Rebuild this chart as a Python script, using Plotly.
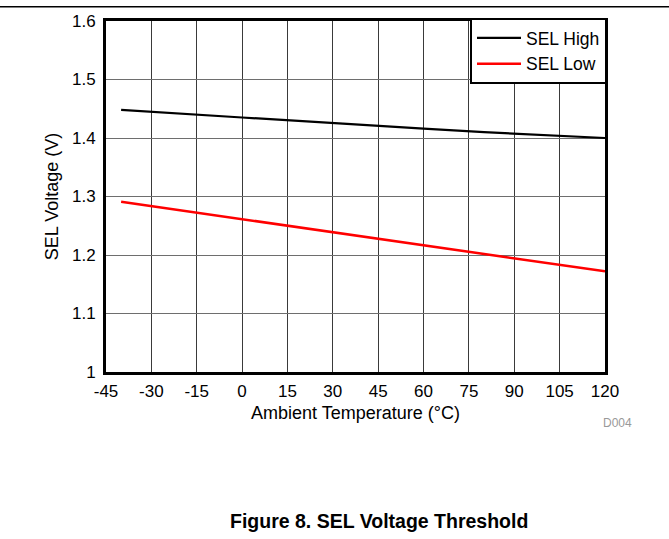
import plotly.graph_objects as go

temps = [-40, -20, 0, 20, 40, 60, 80, 100, 120]
sel_high = [1.448, 1.441, 1.435, 1.429, 1.422, 1.416, 1.410, 1.405, 1.400]
sel_low = [1.291, 1.276, 1.261, 1.246, 1.231, 1.216, 1.201, 1.187, 1.172]
x_ticks = [-45, -30, -15, 0, 15, 30, 45, 60, 75, 90, 105, 120]
x_tick_text = ["-45", "-30", "-15", "0", "15", "30", "45", "60", "75", "90", "105", "120"]
y_ticks = [1.0, 1.1, 1.2, 1.3, 1.4, 1.5, 1.6]
y_tick_text = ["1", "1.1", "1.2", "1.3", "1.4", "1.5", "1.6"]

FONT = "Liberation Sans, Arial, sans-serif"

fig = go.Figure()
fig.add_trace(go.Scatter(x=temps, y=sel_high, mode="lines", name="SEL High",
                         line=dict(color="black", width=2.2)))
fig.add_trace(go.Scatter(x=temps, y=sel_low, mode="lines", name="SEL Low",
                         line=dict(color="#ff0000", width=2.5)))

L, R, T, B = 106, 64, 17, 167
W, H = 669, 539
pw = W - L - R
ph = H - T - B

fig.update_layout(
    width=W, height=H,
    margin=dict(l=L, r=R, t=T, b=B),
    paper_bgcolor="white", plot_bgcolor="white",
    font=dict(family=FONT, size=17, color="black"),
    showlegend=True,
    legend=dict(x=1 + 2 / pw, y=1 + 3 / ph, xanchor="right", yanchor="top",
                bordercolor="black", borderwidth=2, bgcolor="white",
                font=dict(size=17.5), tracegroupgap=0, itemwidth=44),
    xaxis=dict(range=[-45, 120], tickvals=x_ticks, ticktext=x_tick_text, ticks="",
               showgrid=True, gridcolor="#3a3a3a", gridwidth=1, zeroline=False,
               showline=True, linecolor="black", linewidth=3, mirror=True,
               ticklabelstandoff=2,
               title=dict(text="Ambient Temperature (°C)", font=dict(size=18), standoff=6),
               tickfont=dict(size=17)),
    yaxis=dict(range=[1.0, 1.6], tickvals=y_ticks, ticktext=y_tick_text, ticks="",
               showgrid=True, gridcolor="#6e6e6e", gridwidth=1, zeroline=False,
               showline=True, linecolor="black", linewidth=3, mirror=True,
               ticklabelstandoff=4,
               title=dict(text="SEL Voltage (V)", font=dict(size=18), standoff=9),
               tickfont=dict(size=17)),
)

# top rule across the page
fig.add_shape(type="line", xref="paper", yref="paper",
              x0=-L / pw, x1=(W - L) / pw, y0=(H - 2.5 - B) / ph, y1=(H - 2.5 - B) / ph,
              line=dict(color="black", width=1.5))

fig.add_annotation(text="D004", xref="paper", yref="paper",
                   x=(617 - L) / pw, y=(H - 424 - B) / ph, showarrow=False,
                   font=dict(size=12, color="#999999"), xanchor="center", yanchor="middle")
fig.add_annotation(text="<b>Figure 8. SEL Voltage Threshold</b>", xref="paper", yref="paper",
                   x=(378.5 - L) / pw, y=(H - 523 - B) / ph, showarrow=False,
                   font=dict(size=19.5, color="black"), xanchor="center", yanchor="middle")

fig.write_html("out.html", config={"displayModeBar": False},
               post_script="document.body.style.margin='0px';")
